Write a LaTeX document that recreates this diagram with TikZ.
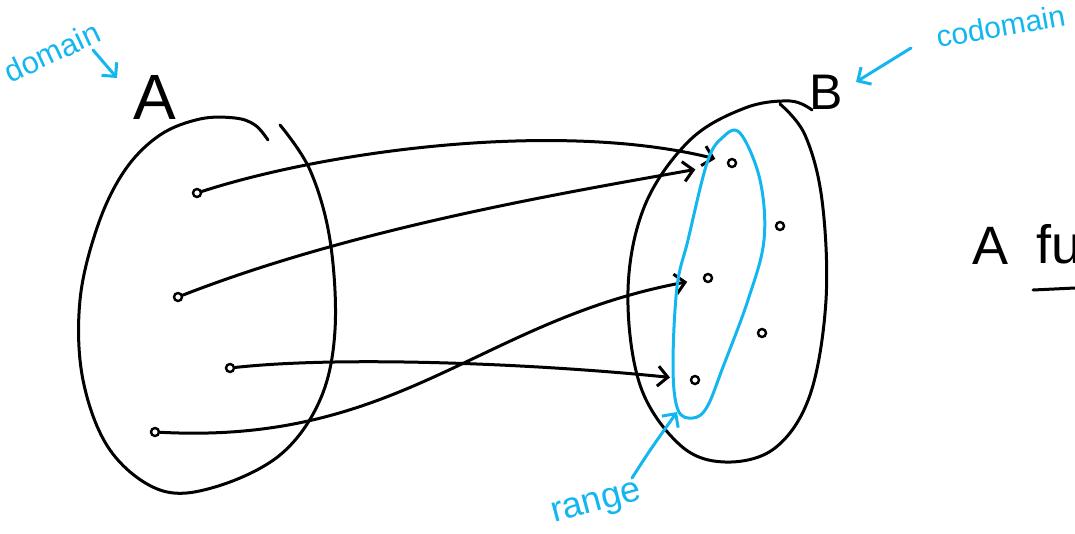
\documentclass[tikz,border=0pt]{standalone}
\usepackage{fontspec}
\setmainfont{Liberation Sans}
\usetikzlibrary{arrows.meta}
\definecolor{inkblue}{RGB}{20,182,240}
\tikzset{
  ink/.style={line width=3pt,line cap=round,line join=round},
  note/.style={inkblue,line width=3pt,line cap=round,line join=round},
  elem/.style={circle,draw,line width=2.4pt,inner sep=0pt,minimum size=8pt},
  barb/.style={-{Straight Barb[length=10pt,width=20pt,line width=3pt]}},
  map/.style={ink,barb},
}
\begin{document}
\begin{tikzpicture}[x=1pt,y=-1pt]
  \useasboundingbox (0,0) rectangle (1075,533);
  \clip (0,0) rectangle (1075,533);
  % the two sets
  \draw[ink] plot[smooth,tension=0.6] coordinates {(268,140) (255,125) (235,118) (200,119) (160,135) (125,170) (98,225) (80,300) (83,380) (110,450) (160,490) (215,487) (280,455) (320,400) (335,330) (330,240) (310,170) (280,125)};
  \draw[ink] plot[smooth,tension=0.6] coordinates {(812,110) (790,101) (745,108) (690,140) (645,205) (628,290) (640,385) (680,445) (725,462) (775,448) (810,395) (826,300) (822,200) (805,135) (780,104)};
  \node[font=\fontsize{64}{64}\selectfont] (setA) at (155,97) {A};
  \node[font=\fontsize{50}{50}\selectfont] (setB) at (826,92) {B};
  % elements
  \node[elem] (a1) at (197,193) {};
  \node[elem] (a2) at (178,297) {};
  \node[elem] (a3) at (230,368) {};
  \node[elem] (a4) at (155,432) {};
  \node[elem] (b1) at (732,163) {};
  \node[elem] (b2) at (780,226) {};
  \node[elem] (b3) at (708,278) {};
  \node[elem] (b4) at (762,333) {};
  \node[elem] (b5) at (695,380) {};
  % the mapping
  \draw[map,shorten >=12pt] (a1) .. controls (330,150) and (560,120) .. (b1);
  \draw[map,shorten >=32pt] (a2) .. controls (350,230) and (550,195) .. (b1);
  \draw[map,shorten >=20pt] (a3) .. controls (350,355) and (550,365) .. (b5);
  \draw[map,shorten >=16pt] (a4) .. controls (400,445) and (480,320) .. (b3);
  % range
  \draw[note] plot[smooth cycle,tension=0.6] coordinates {(740,133) (760,180) (764,240) (748,300) (723,367) (707,407) (693,418) (678,410) (673,367) (677,287) (688,240) (707,163) (722,138)};
  % notes
  \node[inkblue,rotate=25,font=\fontsize{31}{31}\selectfont] (dom) at (52,52) {domain};
  \coordinate (domtip) at (117,78);
  \draw[note,barb] (93,50) -- (domtip);
  \node[inkblue,rotate=10,font=\fontsize{30}{30}\selectfont,anchor=west] (codom) at (933,38) {codomain};
  \coordinate (codomtip) at (856,82);
  \draw[note,barb] (codom.west) ++(-22,10) -- (codomtip);
  \node[inkblue,rotate=15,font=\fontsize{36}{36}\selectfont] (range) at (597,505) {range};
  \coordinate (rangetip) at (677,412);
  \draw[note,barb] (632,478) .. controls (650,450) .. (rangetip);
  % cut-off remark
  \node[font=\fontsize{54}{54}\selectfont] (remA) at (990,246) {A};
  \node[font=\fontsize{54}{54}\selectfont,anchor=west] (remf) at (1033,244) {fu};
  \draw[ink] (1033,290) -- (1075,288);
\end{tikzpicture}
\end{document}
